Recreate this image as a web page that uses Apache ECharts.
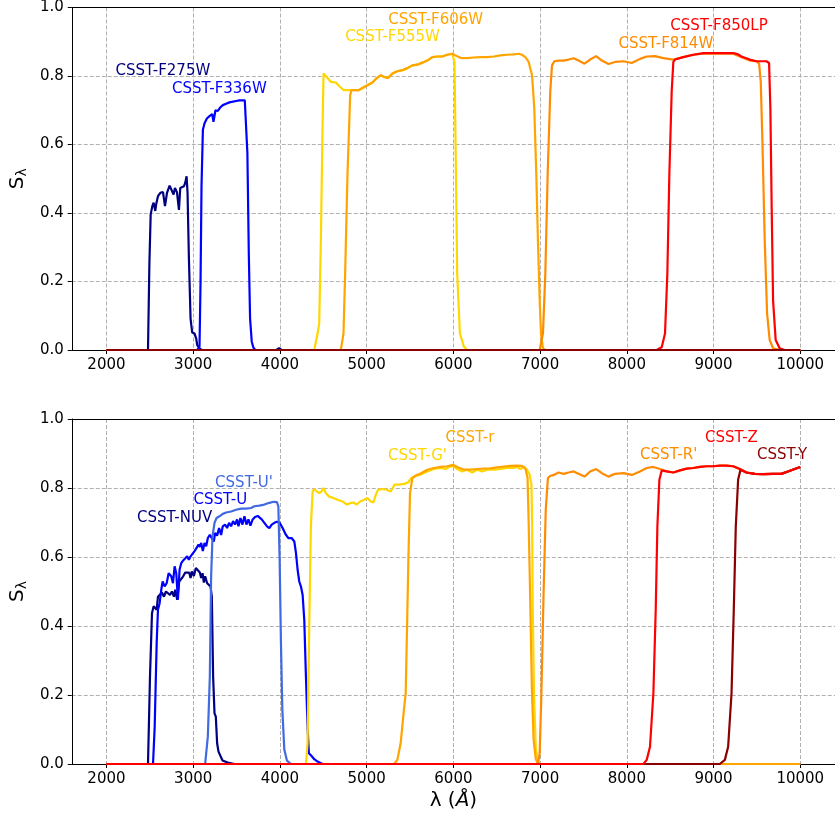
<!DOCTYPE html>
<html>
<head>
<meta charset="utf-8">
<script src="https://cdn.jsdelivr.net/npm/echarts@6/dist/echarts.min.js"></script>
<style>
html,body{margin:0;padding:0;background:#fff;}
#c{width:835px;height:822px;}
</style>
</head>
<body>
<div id="c"></div>
<script>
// ---------- data: [wavelength (Å), S_lambda] ----------
const xTicks = [2000, 3000, 4000, 5000, 6000, 7000, 8000, 9000, 10000];
const yTicks = [0.0, 0.2, 0.4, 0.6, 0.8, 1.0];

// top panel
const f275w = [[2000,0],[2479,0],[2495,0.25],[2510,0.396],[2529,0.420],[2544,0.430],[2563,0.406],[2575,0.428],[2594,0.449],[2621,0.459],[2652,0.461],[2675,0.420],[2698,0.459],[2728,0.480],[2751,0.478],[2774,0.454],[2790,0.473],[2813,0.461],[2836,0.409],[2851,0.473],[2874,0.468],[2893,0.478],[2908,0.488],[2924,0.507],[2935,0.459],[2951,0.265],[2970,0.091],[2989,0.051],[3016,0.048],[3035,0.033],[3047,0.014],[3073,0.005],[3100,0],[3960,0],[3990,0.005],[4020,0],[10000,0]];
const f336w = [[2000,0],[3047,0],[3073,0.01],[3085,0.2],[3096,0.478],[3112,0.643],[3131,0.662],[3158,0.676],[3188,0.683],[3219,0.689],[3234,0.666],[3257,0.700],[3284,0.698],[3311,0.708],[3342,0.715],[3380,0.719],[3418,0.723],[3457,0.725],[3495,0.727],[3533,0.729],[3564,0.729],[3579,0.733],[3595,0.729],[3610,0.729],[3625,0.575],[3641,0.285],[3656,0.092],[3675,0.025],[3694,0.007],[3717,0],[10000,0]];
const f555w = [[2000,0],[4396,0],[4434,0.048],[4453,0.077],[4472,0.319],[4492,0.657],[4503,0.807],[4518,0.810],[4549,0.794],[4587,0.783],[4645,0.781],[4683,0.771],[4733,0.759],[4779,0.759],[4825,0.759],[4856,0.759],[4913,0.759],[4971,0.768],[5009,0.773],[5067,0.781],[5116,0.794],[5162,0.802],[5201,0.797],[5247,0.794],[5297,0.807],[5354,0.814],[5412,0.817],[5469,0.823],[5527,0.831],[5584,0.833],[5642,0.839],[5699,0.845],[5757,0.855],[5814,0.857],[5872,0.857],[5929,0.862],[5987,0.865],[5998,0.865],[6013,0.841],[6025,0.609],[6044,0.223],[6075,0.049],[6121,0.010],[6159,0],[10000,0]];
const f606w = [[2000,0],[4702,0],[4733,0.048],[4752,0.223],[4779,0.512],[4810,0.744],[4825,0.759],[4856,0.759],[4913,0.759],[4971,0.768],[5009,0.773],[5067,0.781],[5116,0.794],[5162,0.802],[5201,0.797],[5247,0.794],[5297,0.807],[5354,0.814],[5412,0.817],[5469,0.823],[5527,0.831],[5584,0.833],[5642,0.839],[5699,0.845],[5757,0.855],[5814,0.857],[5872,0.857],[5929,0.862],[5987,0.865],[6025,0.860],[6082,0.853],[6159,0.852],[6236,0.854],[6312,0.855],[6389,0.855],[6466,0.857],[6542,0.860],[6619,0.862],[6696,0.863],[6753,0.865],[6791,0.862],[6830,0.855],[6868,0.841],[6907,0.802],[6933,0.705],[6956,0.512],[6975,0.319],[6995,0.145],[7010,0.048],[7033,0.005],[7060,0],[10000,0]];
const f814w = [[2000,0],[6995,0],[7033,0.048],[7060,0.223],[7087,0.512],[7117,0.754],[7137,0.831],[7164,0.843],[7213,0.845],[7271,0.845],[7328,0.848],[7386,0.852],[7443,0.845],[7512,0.836],[7577,0.848],[7646,0.858],[7712,0.845],[7788,0.835],[7865,0.841],[7961,0.843],[8057,0.838],[8152,0.850],[8229,0.857],[8325,0.858],[8421,0.852],[8536,0.848],[8651,0.855],[8766,0.862],[8881,0.865],[8996,0.865],[9111,0.865],[9226,0.865],[9321,0.855],[9417,0.845],[9494,0.843],[9525,0.836],[9544,0.783],[9563,0.609],[9590,0.319],[9617,0.106],[9647,0.029],[9686,0.005],[9762,0],[10000,0]];
const f850lp = [[2000,0],[8344,0],[8402,0.008],[8440,0.048],[8467,0.223],[8490,0.512],[8517,0.754],[8536,0.841],[8555,0.848],[8651,0.855],[8766,0.862],[8881,0.867],[8996,0.867],[9111,0.867],[9226,0.867],[9283,0.863],[9321,0.857],[9417,0.848],[9494,0.843],[9609,0.843],[9640,0.838],[9655,0.705],[9670,0.415],[9686,0.145],[9716,0.029],[9762,0.005],[9820,0],[10000,0]];
const baseTop = [[2000,0],[10000,0]];

// bottom panel
const nuv = [[2000,0],[2479,0],[2502,0.253],[2525,0.437],[2544,0.457],[2563,0.457],[2579,0.447],[2594,0.485],[2617,0.490],[2640,0.497],[2663,0.485],[2686,0.500],[2709,0.505],[2732,0.490],[2755,0.500],[2778,0.485],[2793,0.505],[2816,0.476],[2839,0.529],[2862,0.534],[2885,0.544],[2908,0.555],[2931,0.553],[2954,0.555],[2970,0.539],[2985,0.558],[3008,0.545],[3031,0.568],[3054,0.568],[3077,0.555],[3092,0.539],[3108,0.553],[3123,0.526],[3138,0.544],[3161,0.524],[3184,0.519],[3200,0.515],[3215,0.485],[3230,0.253],[3246,0.147],[3261,0.137],[3276,0.060],[3292,0.036],[3315,0.031],[3338,0.010],[3399,0.004],[3476,0],[3760,0],[3782,0.003],[3805,0],[10000,0]];
const uBand = [[2000,0],[2537,0],[2556,0.107],[2579,0.350],[2594,0.447],[2613,0.466],[2632,0.505],[2648,0.529],[2671,0.515],[2694,0.524],[2717,0.553],[2732,0.558],[2747,0.544],[2767,0.524],[2786,0.573],[2805,0.553],[2824,0.476],[2843,0.563],[2862,0.582],[2885,0.590],[2908,0.592],[2931,0.602],[2950,0.592],[2970,0.602],[2993,0.607],[3016,0.617],[3039,0.612],[3062,0.636],[3077,0.629],[3092,0.641],[3111,0.617],[3131,0.641],[3150,0.631],[3169,0.655],[3192,0.664],[3215,0.660],[3238,0.645],[3253,0.670],[3276,0.662],[3299,0.684],[3322,0.664],[3341,0.689],[3368,0.694],[3391,0.684],[3414,0.699],[3437,0.689],[3460,0.704],[3483,0.694],[3506,0.709],[3522,0.689],[3545,0.713],[3568,0.694],[3591,0.718],[3614,0.694],[3637,0.709],[3660,0.691],[3686,0.709],[3713,0.716],[3744,0.719],[3767,0.718],[3790,0.709],[3821,0.699],[3851,0.689],[3878,0.684],[3905,0.694],[3936,0.699],[3966,0.702],[3997,0.699],[4031,0.684],[4070,0.664],[4097,0.655],[4135,0.655],[4166,0.645],[4185,0.612],[4204,0.563],[4223,0.529],[4242,0.515],[4262,0.490],[4281,0.417],[4300,0.253],[4319,0.107],[4334,0.031],[4365,0.023],[4396,0.014],[4434,0.007],[4491,0],[10000,0]];
const uPrime = [[2000,0],[3138,0],[3169,0.080],[3192,0.253],[3207,0.544],[3223,0.660],[3246,0.699],[3269,0.713],[3303,0.718],[3341,0.725],[3380,0.729],[3437,0.732],[3495,0.737],[3552,0.740],[3610,0.740],[3667,0.742],[3706,0.747],[3763,0.749],[3821,0.752],[3878,0.757],[3928,0.760],[3966,0.759],[3982,0.747],[3997,0.592],[4012,0.350],[4028,0.157],[4051,0.041],[4081,0.010],[4127,0],[10000,0]];
const gPrime = [[2000,0],[4300,0],[4319,0.060],[4338,0.398],[4357,0.688],[4377,0.790],[4396,0.797],[4426,0.790],[4453,0.785],[4480,0.790],[4503,0.800],[4530,0.785],[4568,0.775],[4618,0.771],[4664,0.766],[4722,0.761],[4771,0.752],[4810,0.756],[4848,0.758],[4886,0.752],[4925,0.761],[4971,0.766],[5009,0.771],[5047,0.761],[5078,0.758],[5105,0.780],[5132,0.795],[5182,0.797],[5231,0.795],[5277,0.790],[5323,0.810],[5373,0.810],[5431,0.812],[5477,0.816],[5515,0.829],[5565,0.834],[5622,0.839],[5699,0.848],[5776,0.855],[5852,0.858],[5910,0.855],[5948,0.861],[5998,0.864],[6044,0.855],[6102,0.848],[6159,0.853],[6217,0.845],[6274,0.853],[6332,0.848],[6389,0.853],[6466,0.853],[6542,0.855],[6619,0.858],[6696,0.858],[6734,0.861],[6772,0.855],[6811,0.861],[6849,0.853],[6878,0.84],[6900,0.81],[6908,0.70],[6915,0.45],[6930,0.20],[6950,0.05],[6975,0.007],[7000,0],[10000,0]];
const rBand = [[2000,0],[5316,0],[5354,0.012],[5392,0.060],[5431,0.160],[5450,0.205],[5466,0.398],[5481,0.592],[5500,0.785],[5527,0.829],[5565,0.836],[5622,0.842],[5699,0.853],[5776,0.858],[5852,0.861],[5929,0.863],[5998,0.867],[6044,0.861],[6121,0.853],[6197,0.853],[6274,0.855],[6351,0.856],[6427,0.857],[6504,0.860],[6581,0.862],[6657,0.864],[6734,0.865],[6791,0.864],[6830,0.857],[6855,0.83],[6868,0.70],[6888,0.45],[6905,0.22],[6925,0.07],[6950,0.015],[6975,0],[10000,0]];
const rPrime = [[2000,0],[6975,0],[6995,0.031],[7015,0.205],[7040,0.495],[7065,0.737],[7090,0.829],[7118,0.835],[7156,0.838],[7213,0.845],[7271,0.841],[7328,0.845],[7386,0.848],[7443,0.841],[7512,0.833],[7577,0.848],[7646,0.855],[7712,0.843],[7788,0.833],[7865,0.841],[7961,0.843],[8057,0.838],[8152,0.848],[8229,0.858],[8306,0.861],[8382,0.855],[8459,0.848],[8536,0.845],[8613,0.851],[8689,0.856],[8766,0.858],[8842,0.861],[8919,0.863],[8996,0.863],[9072,0.865],[9149,0.865],[9226,0.863],[9302,0.855],[9379,0.845],[9475,0.841],[9571,0.840],[9686,0.841],[9781,0.841],[9858,0.848],[9935,0.855],[10000,0.861]];
const zBand = [[2000,0],[8191,0],[8229,0.012],[8267,0.050],[8306,0.205],[8333,0.447],[8352,0.688],[8375,0.824],[8402,0.851],[8459,0.848],[8536,0.845],[8613,0.851],[8689,0.856],[8766,0.858],[8842,0.861],[8919,0.863],[8996,0.863],[9072,0.865],[9149,0.865],[9226,0.863],[9302,0.855],[9379,0.845],[9475,0.841],[9571,0.840],[9686,0.841],[9781,0.841],[9858,0.848],[9935,0.855],[10000,0.861]];
const yBand = [[2000,0],[9072,0],[9130,0.012],[9168,0.050],[9207,0.205],[9233,0.447],[9256,0.688],[9283,0.824],[9310,0.853],[9379,0.845],[9475,0.841],[9571,0.840],[9686,0.841],[9781,0.841],[9858,0.848],[9935,0.855],[10000,0.861]];

// filter name annotations: [text, wavelength, S]
const topLabels = {
  f275w: ['CSST-F275W', 2104, 0.815],
  f336w: ['CSST-F336W', 2755, 0.763],
  f555w: ['CSST-F555W', 4752, 0.915],
  f606w: ['CSST-F606W', 5250, 0.964],
  f814w: ['CSST-F814W', 7903, 0.894],
  f850lp: ['CSST-F850LP', 8501, 0.945]
};
const bottomLabels = {
  nuv: ['CSST-NUV', 2353, 0.714],
  u: ['CSST-U', 3004, 0.764],
  up: ["CSST-U'", 3253, 0.814],
  gp: ["CSST-G'", 5246, 0.892],
  r: ['CSST-r', 5910, 0.945],
  rp: ["CSST-R'", 8152, 0.894],
  z: ['CSST-Z', 8900, 0.945],
  y: ['CSST-Y', 9501, 0.894]
};

// ---------- chart ----------
const FONT = 'DejaVu Sans';
const C = {
  navy:'#000080', blue:'#0000ff', royal:'#4169e1', gold:'#ffd700',
  orange:'#ffa500', dark:'#ff8c00', red:'#ff0000', darkred:'#8b0000'
};

function line(name, data, color, idx, lab, z) {
  const s = {
    name: name, type: 'line', data: data, xAxisIndex: idx, yAxisIndex: idx,
    showSymbol: false, symbol: 'none', animation: false, silent: true,
    lineStyle: {color: color, width: 2.2}, itemStyle: {color: color},
    z: z || 2
  };
  if (lab) {
    s.markPoint = {
      symbol: 'circle', symbolSize: 0, silent: true, animation: false,
      data: [{coord: [lab[1], lab[2]], value: 0}],
      label: {show: true, position: 'right', distance: 0, formatter: lab[0],
              color: color, fontSize: 15, fontFamily: FONT}
    };
  }
  return s;
}

function xAxis(idx, withName) {
  const a = {
    type: 'value', gridIndex: idx, min: 1600, max: 10400,
    axisLine: {show: true, onZero: false, lineStyle: {color: '#000', width: 1}},
    axisTick: {show: true, customValues: xTicks, length: 4, lineStyle: {color: '#000'}},
    axisLabel: {customValues: xTicks, color: '#000', fontSize: 15, fontFamily: FONT, margin: 8,
      formatter: v => String(v)},
    splitLine: {show: true, lineStyle: {color: '#b0b0b0', width: 1, type: [4, 2]}},
    z: 1
  };
  if (withName) {
    a.name = 'λ ({i|Å})';
    a.nameLocation = 'middle';
    a.nameGap = 27;
    a.nameTextStyle = {color: '#000', fontSize: 20, fontFamily: FONT,
      rich: {i: {fontSize: 20, fontStyle: 'italic', fontFamily: FONT, color: '#000'}}};
  }
  return a;
}
// frame axes (top / right spines)
function xFrame(idx) {
  return {type: 'value', gridIndex: idx, position: 'top', min: 1600, max: 10400,
    axisLine: {show: true, onZero: false, lineStyle: {color: '#000', width: 1}},
    axisTick: {show: false}, axisLabel: {show: false}, splitLine: {show: false}, z: 5};
}
function yFrame(idx) {
  return {type: 'value', gridIndex: idx, position: 'right', min: 0, max: 1,
    axisLine: {show: true, onZero: false, lineStyle: {color: '#000', width: 1}},
    axisTick: {show: false}, axisLabel: {show: false}, splitLine: {show: false}, z: 5};
}
function yAxis(idx) {
  return {
    type: 'value', gridIndex: idx, min: 0, max: 1, interval: 0.2,
    axisLine: {show: true, onZero: false, lineStyle: {color: '#000', width: 1}},
    axisTick: {show: true, length: 4, lineStyle: {color: '#000'}},
    axisLabel: {color: '#000', fontSize: 15, fontFamily: FONT, margin: 8,
      formatter: v => v.toFixed(1)},
    splitLine: {show: true, lineStyle: {color: '#b0b0b0', width: 1, type: [4, 2]}},
    name: '{s|S}{sub|λ}', nameLocation: 'middle', nameGap: 42, nameRotate: 90,
    nameTextStyle: {color: '#000', fontFamily: FONT,
      rich: {s: {fontSize: 20, fontFamily: FONT, color: '#000'},
             sub: {fontSize: 14, fontFamily: FONT, color: '#000', verticalAlign: 'bottom', padding: [8, 0, 0, 0]}}},
    z: 1
  };
}

const chart = echarts.init(document.getElementById('c'), null, {renderer: 'canvas'});
chart.setOption({
  backgroundColor: '#fff',
  animation: false,
  grid: [
    {left: 70, right: 0, top: 5, height: 345},
    {left: 70, right: 0, top: 419, height: 345}
  ],
  xAxis: [xAxis(0, false), xAxis(1, true), xFrame(0), xFrame(1)],
  yAxis: [yAxis(0), yAxis(1), yFrame(0), yFrame(1)],
  series: [
    line('CSST-F275W', f275w, C.navy, 0, topLabels.f275w),
    line('CSST-F336W', f336w, C.blue, 0, topLabels.f336w),
    line('CSST-F555W', f555w, C.gold, 0, topLabels.f555w),
    line('CSST-F606W', f606w, C.orange, 0, topLabels.f606w),
    line('CSST-F814W', f814w, C.dark, 0, topLabels.f814w),
    line('CSST-F850LP', f850lp, C.red, 0, topLabels.f850lp),
    line('baseline', baseTop, C.darkred, 0, null),
    line('CSST-NUV', nuv, C.navy, 1, bottomLabels.nuv),
    line('CSST-U', uBand, C.blue, 1, bottomLabels.u),
    line("CSST-U'", uPrime, C.royal, 1, bottomLabels.up),
    line("CSST-G'", gPrime, C.gold, 1, bottomLabels.gp),
    line('CSST-r', rBand, C.orange, 1, bottomLabels.r),
    line("CSST-R'", rPrime, C.dark, 1, bottomLabels.rp),
    line('CSST-Y', yBand, C.darkred, 1, bottomLabels.y),
    line('CSST-Z', zBand, C.red, 1, bottomLabels.z)
  ]
});
</script>
</body>
</html>
